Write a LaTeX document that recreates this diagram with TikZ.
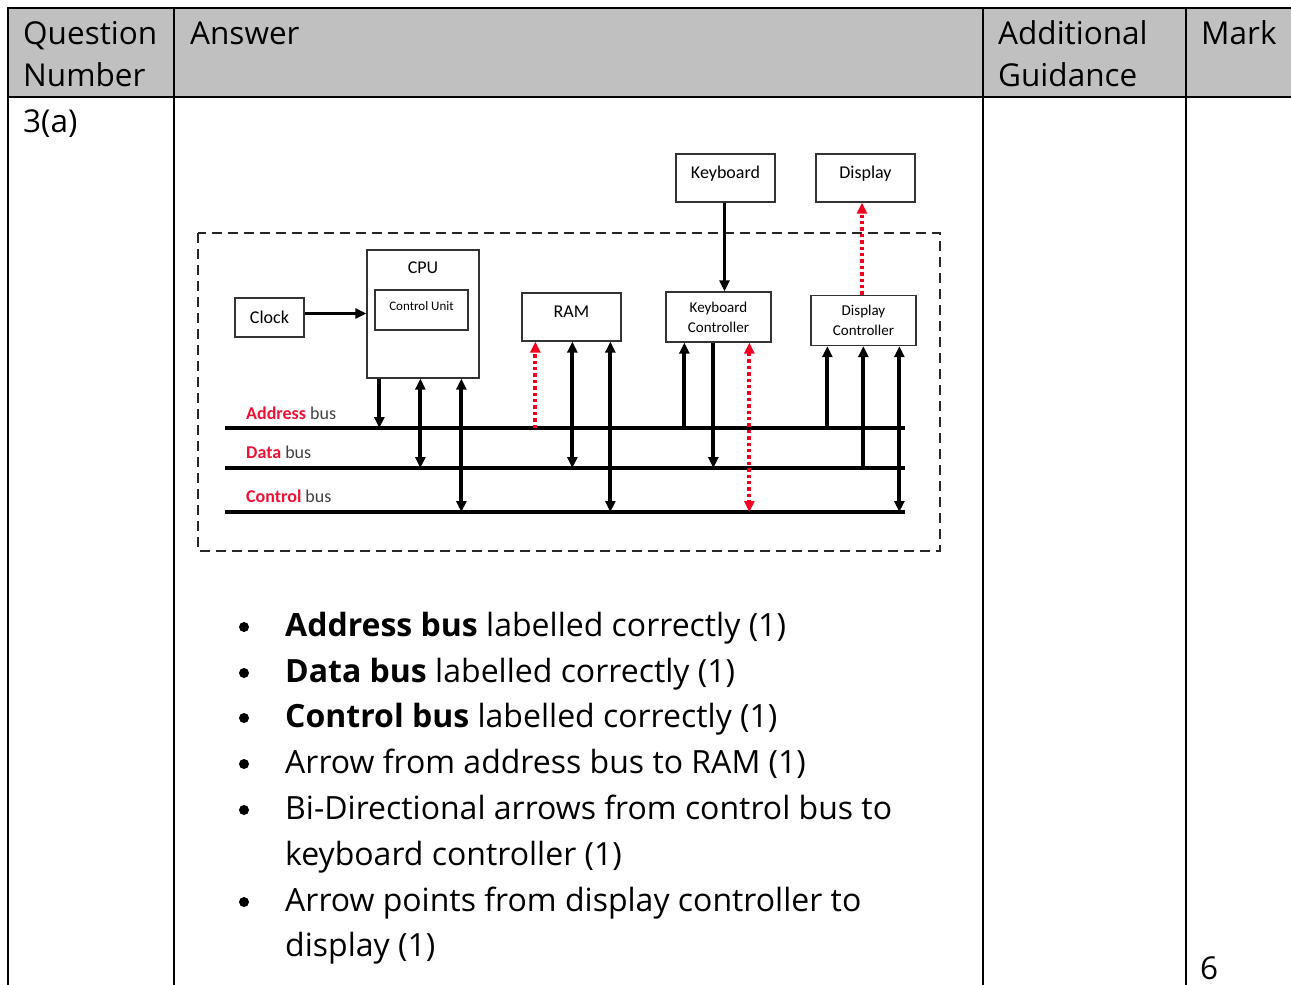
\documentclass[tikz,border=0pt]{standalone}
\usepackage{fontspec}
\setmainfont{Open Sans}
\newfontfamily\carlito{Carlito}
\usetikzlibrary{arrows.meta}
\definecolor{hdr}{HTML}{C0C0C0}
\definecolor{busred}{HTML}{EE1133}
\definecolor{dotred}{HTML}{F0001E}
\definecolor{busgray}{HTML}{404040}
\begin{document}
\begin{tikzpicture}[x=1pt,y=-1pt,
  tline/.style={line width=2.2pt},
  txt/.style={anchor=base west, inner sep=0pt, font=\fontsize{32}{38}\selectfont},
  htxt/.style={anchor=base west, inner sep=0pt, font=\fontsize{31.5}{38}\selectfont},
  box/.style={draw=black!80, line width=1.3pt, inner sep=0pt, fill=white, align=center, font=\carlito\fontsize{18}{20}\selectfont},
  hightxt/.style={text height=7pt, text depth=6pt},
  smallbox/.style={box, font=\carlito\fontsize{15}{20}\selectfont},
  dlabel/.style={anchor=base west, inner sep=0pt, font=\carlito\fontsize{18}{20}\selectfont, text=busgray},
  tip/.tip={Triangle[length=11pt,width=10pt]},
  arr/.style={line width=3.8pt, -tip},
  biarr/.style={line width=3.8pt, tip-tip},
  redarr/.style={draw=dotred, line width=3.8pt, dash pattern=on 3.4pt off 3pt, -tip, color=dotred},
  redbiarr/.style={draw=dotred, line width=3.8pt, dash pattern=on 3.4pt off 3pt, tip-tip, color=dotred},
  bus/.style={line width=4pt},
  bullet/.style={circle, fill=black, inner sep=0pt, minimum size=10pt}
]
\useasboundingbox (0,0) rectangle (1291,985);
% table
\fill[hdr] (8,8) rectangle (1291,97);
\draw[tline] (1291,8) -- (8,8) -- (8,985);
\draw[tline] (8,97) -- (1291,97);
\draw[tline] (174,8) -- (174,985);
\draw[tline] (983,8) -- (983,985);
\draw[tline] (1186,8) -- (1186,985);
\node[htxt] (hq1) at (23,44) {Question};
\node[htxt] (hq2) at (23,86) {Number};
\node[htxt] (hans) at (190,44) {Answer};
\node[htxt] (hadd1) at (998,44) {Additional};
\node[htxt] (hadd2) at (998,86) {Guidance};
\node[htxt] (hmark) at (1201,44) {Mark};
\node[htxt] (qnum) at (23,132) {3(a)};
\node[htxt] (mark) at (1200,979) {6};

% diagram frame
\draw[line width=2.4pt, draw=black!85, dash pattern=on 10pt off 6pt] (198,233) rectangle (940,551);

% boxes
\node[box, hightxt, minimum width=99pt, minimum height=48pt] (kbd) at (725.5,178) {Keyboard};
\node[box, hightxt, minimum width=99pt, minimum height=48pt] (disp) at (865.5,178) {Display};
\node[box, minimum width=112pt, minimum height=128pt] (cpu) at (423,314) {};
\node[box, draw=none, fill=none] (cpulbl) at (423,268) {CPU};
\node[box, minimum width=93pt, minimum height=40pt] (cu) at (421.5,310) {};
\node[box, draw=none, fill=none, font=\carlito\fontsize{13}{15}\selectfont] (culbl) at (421.5,306) {Control Unit};
\node[box, minimum width=69pt, minimum height=39pt] (clock) at (269.5,317.5) {Clock};
\node[box, hightxt, minimum width=99pt, minimum height=48pt] (ram) at (571.5,317) {RAM};
\node[smallbox, minimum width=105pt, minimum height=50pt] (kc) at (718.5,317) {Keyboard\\Controller};
\node[smallbox, minimum width=105pt, minimum height=50pt] (dc) at (863.5,320.5) {Display\\Controller};

% buses
\coordinate (ab) at (225,428);
\coordinate (ae) at (905,428);
\coordinate (db) at (225,468);
\coordinate (de) at (905,468);
\coordinate (cb) at (225,512);
\coordinate (ce) at (905,512);
\draw[bus] (ab) -- (ae);
\draw[bus] (db) -- (de);
\draw[bus] (cb) -- (ce);
\node[dlabel] (alab) at (246,419) {\textcolor{busred}{\bfseries Address} bus};
\node[dlabel] (dlab) at (246,458) {\textcolor{busred}{\bfseries Data} bus};
\node[dlabel] (clab) at (246,502) {\textcolor{busred}{\bfseries Control} bus};

% connectors
\draw[arr] ([yshift=4pt]clock.east) -- ([yshift=4pt]clock.east -| cpu.west);
\draw[arr] ([xshift=13pt]cpu.south west) -- ([xshift=13pt]cpu.south west |- ab);
\draw[biarr] ([xshift=54pt]cpu.south west) -- ([xshift=54pt]cpu.south west |- db);
\draw[biarr] ([xshift=95pt]cpu.south west) -- ([xshift=95pt]cpu.south west |- cb);

\draw[redarr] ([xshift=14pt]ram.south west |- ab) -- ([xshift=14pt]ram.south west);
\draw[biarr] ([xshift=51pt]ram.south west) -- ([xshift=51pt]ram.south west |- db);
\draw[biarr] ([xshift=89pt]ram.south west) -- ([xshift=89pt]ram.south west |- cb);

\draw[arr] ([xshift=-1pt]kbd.south) -- ([xshift=-1pt]kbd.south |- kc.north);
\draw[arr] ([xshift=19pt]kc.south west |- ab) -- ([xshift=19pt]kc.south west);
\draw[arr] ([xshift=48pt]kc.south west) -- ([xshift=48pt]kc.south west |- db);
\draw[redbiarr] ([xshift=84pt]kc.south west) -- ([xshift=84pt]kc.south west |- cb);

\draw[redarr] ([xshift=-1.5pt]dc.north) -- ([xshift=-1.5pt]dc.north |- disp.south);
\draw[arr] ([xshift=17pt]dc.south west |- ab) -- ([xshift=17pt]dc.south west);
\draw[arr] ([xshift=53pt]dc.south west |- db) -- ([xshift=53pt]dc.south west);
\draw[biarr] ([xshift=89pt]dc.south west) -- ([xshift=89pt]dc.south west |- cb);

% bullets
\foreach \i/\y in {1/625,2/671,3/716,4/762,5/808,6/900} {
  \node[bullet] (b\i) at (244,\y+2) {};
}
\node[txt] (t1) at (285,636) {\bfseries Address bus\mdseries{} labelled correctly (1)};
\node[txt] (t2) at (285,682) {\bfseries Data bus\mdseries{} labelled correctly (1)};
\node[txt] (t3) at (285,727) {\bfseries Control bus\mdseries{} labelled correctly (1)};
\node[txt] (t4) at (285,773) {Arrow from address bus to RAM (1)};
\node[txt] (t5a) at (285,819) {Bi-Directional arrows from control bus to};
\node[txt] (t5b) at (285,865) {keyboard controller (1)};
\node[txt] (t6a) at (285,911) {Arrow points from display controller to};
\node[txt] (t6b) at (285,956) {display (1)};
\end{tikzpicture}
\end{document}
